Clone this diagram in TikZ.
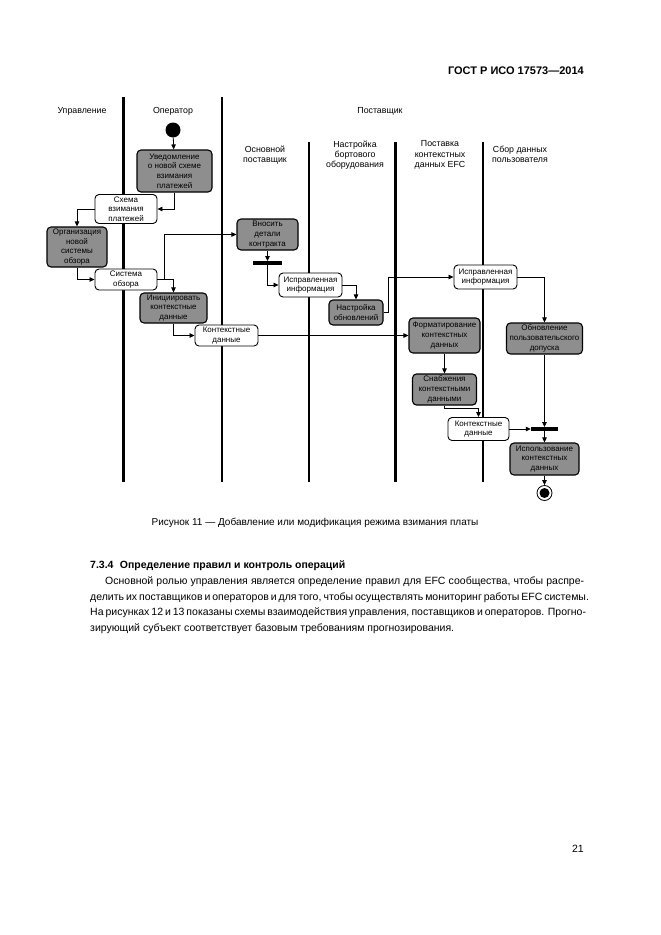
\documentclass[tikz,border=0pt]{standalone}
\usepackage{fontspec}
\setmainfont{Liberation Sans}
\usetikzlibrary{arrows.meta}
\definecolor{actgray}{RGB}{142,142,142}
\begin{document}
\begin{tikzpicture}[x=1pt,y=-1pt,
  every node/.style={font=\fontsize{8}{9.7}\selectfont},
  act/.style={draw, rounded corners=4pt, fill=actgray, line width=1.1pt, align=center, inner sep=1pt},
  obj/.style={draw, rounded corners=4pt, fill=white, line width=0.9pt, align=center, inner sep=1pt},
  arr/.style={-{Triangle[length=5pt,width=4.5pt]}, line width=0.8pt},
  lane/.style={line width=2.8pt},
  syncbar/.style={fill=black, inner sep=0pt, minimum height=3.5pt},
  lbl/.style={align=center, inner sep=0pt, font=\fontsize{8.8}{10.3}\selectfont},
  bodytext/.style={anchor=base west, inner sep=0pt, font=\fontsize{10.5}{12}\selectfont}]
\fill[white] (0,0) rectangle (661,935);
\useasboundingbox (0,0) rectangle (661,935);
% header
\node[anchor=base east, inner sep=0pt, font=\bfseries\fontsize{11}{13}\selectfont] (hdr) at (584,74) {ГОСТ Р ИСО 17573—2014};
% lane lines
\draw[lane] (123.5,97) -- (123.5,482);
\draw[lane] (222,97) -- (222,482);
\draw[lane] (309,142) -- (309,482);
\draw[lane] (395.5,142) -- (395.5,482);
\draw[lane] (483,142) -- (483,482);
% lane headers
\node[lbl] (hU) at (82,111) {Управление};
\node[lbl] (hO) at (173,111) {Оператор};
\node[lbl] (hP) at (380,111) {Поставщик};
\node[lbl] (h1) at (265,155) {Основной\\поставщик};
\node[lbl] (h2) at (355,155) {Настройка\\бортового\\оборудования};
\node[lbl] (h3) at (440,155) {Поставка\\контекстных\\данных EFC};
\node[lbl] (h4) at (520,154) {Сбор данных\\пользователя};
% nodes
\node[circle, fill=black, minimum size=15pt, inner sep=0pt] (start) at (173,130) {};
\node[act, minimum width=75pt, minimum height=42pt] (uved) at (174.5,171) {Уведомление\\о новой схеме\\взимания\\платежей};
\node[obj, minimum width=62pt, minimum height=29pt] (shema) at (126,209) {Схема\\взимания\\платежей};
\node[act, minimum width=60pt, minimum height=40pt] (org) at (77,247) {Организация\\новой\\системы\\обзора};
\node[obj, minimum width=62pt, minimum height=21pt] (sys) at (126,279.5) {Система\\обзора};
\node[act, minimum width=67pt, minimum height=30pt] (init) at (173.5,308) {Инициировать\\контекстные\\данные};
\node[obj, minimum width=63pt, minimum height=21pt] (kd1) at (226.5,335.5) {Контекстные\\данные};
\node[act, minimum width=61pt, minimum height=31pt] (vnos) at (267.5,234.5) {Вносить\\детали\\контракта};
\node[syncbar, minimum width=29pt] (bar1) at (267.5,263) {};
\node[obj, minimum width=63pt, minimum height=24pt] (ispr1) at (310.5,285) {Исправленная\\информация};
\node[act, minimum width=54pt, minimum height=25pt] (nastr) at (356,312.5) {Настройка\\обновлений};
\node[obj, minimum width=63pt, minimum height=24pt] (ispr2) at (485.5,277) {Исправленная\\информация};
\node[act, minimum width=76pt, minimum height=31pt] (obn) at (544.5,338.5) {Обновление\\пользовательского\\допуска};
\node[act, minimum width=71pt, minimum height=35pt] (format) at (444.5,335.5) {Форматирование\\контекстных\\данных};
\node[act, minimum width=64pt, minimum height=31pt] (snab) at (444.5,389.5) {Снабжения\\контекстными\\данными};
\node[obj, minimum width=61pt, minimum height=23pt] (kd2) at (478.5,429) {Контекстные\\данные};
\node[syncbar, minimum width=27pt] (bar2) at (544.5,429) {};
\node[act, minimum width=69pt, minimum height=32pt] (isp) at (544.5,459) {Использование\\контекстных\\данных};
\node[circle, draw, line width=0.8pt, fill=white, minimum size=15pt, inner sep=0pt] (end) at (544.5,493) {};
\node[circle, fill=black, minimum size=10pt, inner sep=0pt] (endin) at (end.center) {};
% connectors
\draw[arr] (start) -- (uved);
\draw[arr] (uved.south) |- (shema.east);
\draw[arr] (shema.west) -| (org.north);
\draw[arr] (org.south) |- (sys.west);
\draw[arr] (sys.east) -- ++(7,0) |- (vnos.west);
\draw[arr] (sys.east) -| (init.north);
\draw[arr] (init.south) |- (kd1.west);
\draw[arr] (kd1.east) -- (format.west);
\draw[arr] (vnos.south) -- (bar1.north);
\draw[arr] (bar1.south) |- (ispr1.west);
\draw[arr] (ispr1.east) -| (nastr.north);
\draw[arr] (nastr.east) -- ++(5,0) |- (ispr2.west);
\draw[arr] (ispr2.east) -| (obn.north);
\draw[arr] (obn.south) -- (bar2.north);
\draw[arr] (bar2.south) -- (isp.north);
\draw[arr] (format.south) -- (snab.north);
\draw[arr] (snab.south) -- ++(0,3) -| (kd2.north);
\draw[arr] (kd2.east) -- (bar2.west);
\draw[arr] (isp.south) -- (end.north);
% caption
\node[inner sep=0pt, font=\fontsize{10}{12}\selectfont] (cap) at (315,523) {Рисунок 11 — Добавление или модификация режима взимания платы};
% body
\node[bodytext, font=\bfseries\fontsize{10.5}{12}\selectfont] (sec) at (90,568.5) {7.3.4\hspace{0.6em}Определение правил и контроль операций};
\node[bodytext] (p1) at (90,584.5) {\hbox to 494pt{\hspace*{15pt}Основной ролью управления является определение правил для EFC сообщества, чтобы распре-}};
\node[bodytext] (p2) at (90,600) {\hbox to 494pt{делить их поставщиков и операторов и для того, чтобы осуществлять мониторинг работы EFC системы.}};
\node[bodytext] (p3) at (90,615.5) {\hbox to 494pt{На рисунках 12 и 13 показаны схемы взаимодействия управления, поставщиков и операторов. Прогно-}};
\node[bodytext] (p4) at (90,631.5) {зирующий субъект соответствует базовым требованиям прогнозирования.};
\node[anchor=base east, inner sep=0pt, font=\fontsize{10.5}{12}\selectfont] (pg) at (584,852.5) {21};
\end{tikzpicture}
\end{document}
